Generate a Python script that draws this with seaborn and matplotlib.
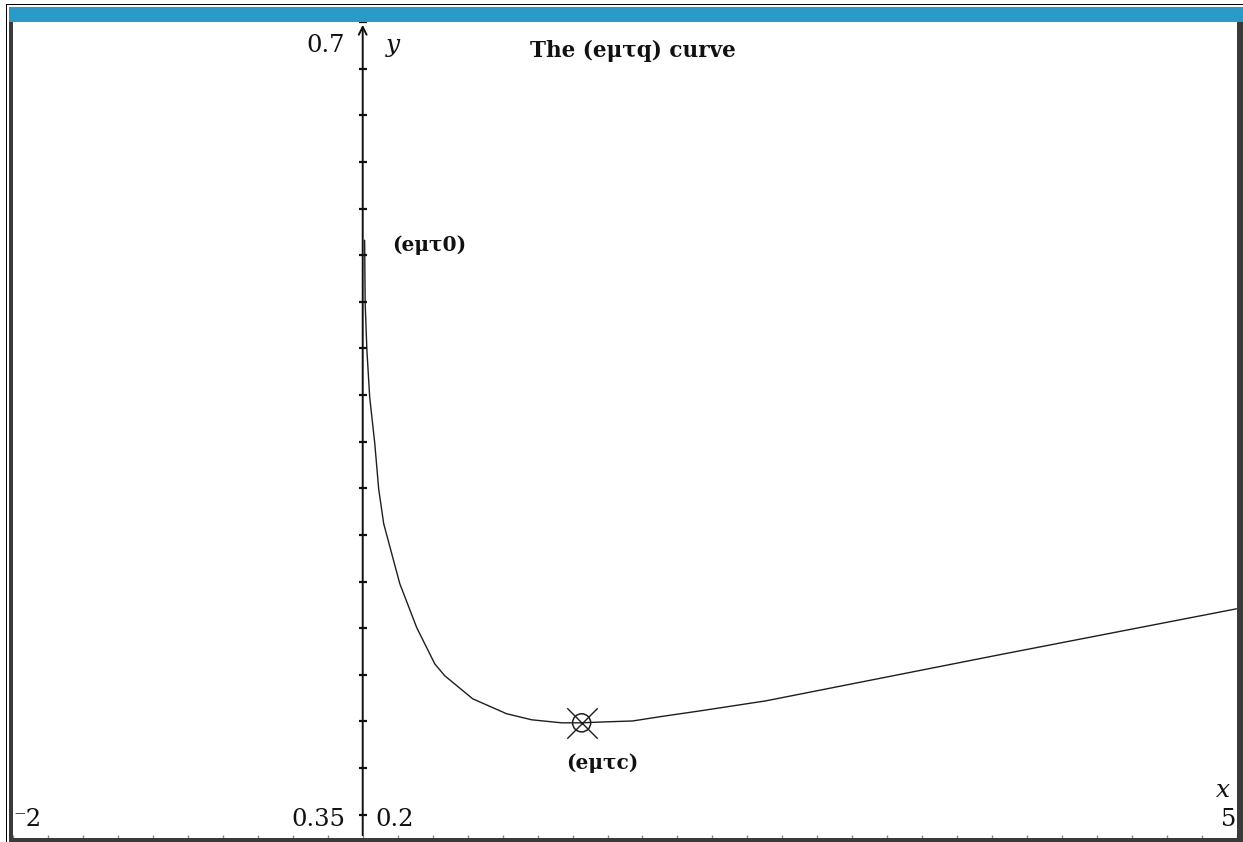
import numpy as np
import pandas as pd
import seaborn as sns
import matplotlib.pyplot as plt
from matplotlib.patches import Rectangle

# curve samples (x, y)
curve_x = [0.011, 0.014, 0.024, 0.040, 0.069, 0.091, 0.120, 0.212, 0.309, 0.412,
           0.469, 0.629, 0.823, 0.966, 1.138, 1.252, 1.384, 1.544, 1.698, 1.927,
           2.304, 3.642, 4.997]
curve_y = [0.6064, 0.5793, 0.5591, 0.5390, 0.5192, 0.4999, 0.4848, 0.4591, 0.4402, 0.4247,
           0.4196, 0.4097, 0.4033, 0.4007, 0.3994, 0.3994, 0.3998, 0.4002, 0.4020, 0.4045,
           0.4088, 0.4286, 0.4483]

# critical point (emtc)
crit_x = [1.252]
crit_y = [0.3994]

x_min, x_max, x_scale = -2, 5, 0.2
y_min, y_max, y_scale = 0.35, 0.7, 0.02

title = "The (eμτq) curve"
start_label = "(eμτ0)"
crit_label = "(eμτc)"

sns.set_theme(style="white")
plt.rcParams['font.family'] = ['DejaVu Serif', 'Liberation Serif']

W, H = 1243, 842
fig = plt.figure(figsize=(W / 100, H / 100), dpi=100)
fig.patch.set_facecolor('white')
ax = fig.add_axes([13 / W, 4 / H, (1237 - 13) / W, (838 - 22) / H])
ax.set_xlim(x_min, x_max)
ax.set_ylim(y_min, y_max)
for s in ax.spines.values():
    s.set_visible(False)
ax.set_xticks([])
ax.set_yticks([])
ax.set_facecolor('white')

df = pd.DataFrame({'x': curve_x, 'y': curve_y})
sns.lineplot(data=df, x='x', y='y', sort=False, estimator=None, color='#1e1e1e', lw=1.0, ax=ax)
ax.set_xlabel('')
ax.set_ylabel('')

# critical point marker: circle with a cross
sns.scatterplot(x=crit_x, y=crit_y, marker='o', s=170, facecolor='none', edgecolor='#1e1e1e',
                linewidth=1.1, ax=ax, zorder=5)
sns.scatterplot(x=crit_x, y=crit_y, marker='x', s=480, color='#1e1e1e', linewidth=1.0, ax=ax, zorder=5)

# y axis with arrow and ticks
ax.annotate('', xy=(0, y_max), xytext=(0, y_min),
            arrowprops=dict(arrowstyle='->', lw=1.4, color='#111111', mutation_scale=14),
            annotation_clip=False)
yticks = np.arange(y_min + 0.01, y_max + 1e-9, y_scale)
ax.plot(np.zeros(len(yticks)), yticks, ls='none', marker='_', ms=6, mew=1.6, color='#111111')

# x ticks along the bottom edge
xticks = np.arange(x_min, x_max + 1e-9, x_scale)
ax.plot(xticks, np.full(len(xticks), y_min), ls='none', marker='|', ms=5, mew=1.0,
        color='#888888', clip_on=True)

num = dict(fontsize=17.5, color='#111111')
ax.text(-0.10, 0.690, "0.7", ha='right', va='center', **num)
ax.text(-0.10, 0.3578, "0.35", ha='right', va='center', **num)
ax.text(0.07, 0.3578, "0.2", ha='left', va='center', **num)
ax.text(-1.995, 0.3578, "⁻2", ha='left', va='center', **num)
ax.text(4.995, 0.3578, "5", ha='right', va='center', **num)
ax.text(0.135, 0.690, "y", ha='left', va='center', fontstyle='italic', fontsize=18, color='#111111')
ax.text(4.917, 0.3702, "x", ha='center', va='center', fontstyle='italic', fontsize=18, color='#111111')

lab = dict(fontsize=14.5, fontweight='bold', color='#111111')
ax.text(1.544, 0.6875, title, ha='center', va='center', fontsize=15.5, fontweight='bold', color='#111111')
ax.text(0.166, 0.6042, start_label, ha='left', va='center', **lab)
ax.text(1.372, 0.3822, crit_label, ha='center', va='center', **lab)

# window frame: blue title bar and dark borders
fig.patches.extend([
    Rectangle((9 / W, 1 - 22 / H), 1 - 9 / W, 15 / H, transform=fig.transFigure,
              facecolor='#2b9ac6', edgecolor='none', zorder=10),
    Rectangle((9 / W, 0), 4 / W, 1 - 22 / H, transform=fig.transFigure,
              facecolor='#3a3a3a', edgecolor='none', zorder=10),
    Rectangle((1237 / W, 0), 6 / W, 1 - 22 / H, transform=fig.transFigure,
              facecolor='#3a3a3a', edgecolor='none', zorder=10),
    Rectangle((9 / W, 0), 1 - 9 / W, 4 / H, transform=fig.transFigure,
              facecolor='#3a3a3a', edgecolor='none', zorder=10),
    Rectangle((6 / W, 0), 1.2 / W, 1 - 4 / H, transform=fig.transFigure,
              facecolor='black', edgecolor='none', zorder=10),
    Rectangle((6 / W, 1 - 5.2 / H), 1 - 6 / W, 1.2 / H, transform=fig.transFigure,
              facecolor='black', edgecolor='none', zorder=10),
])

fig.savefig('out.png', dpi=100)
